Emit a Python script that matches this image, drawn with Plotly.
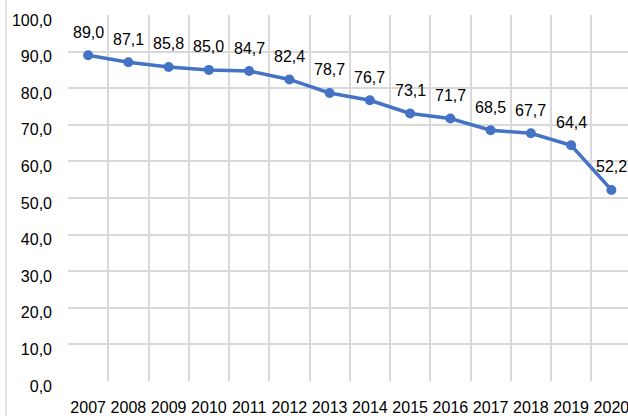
import plotly.graph_objects as go

years = [2007, 2008, 2009, 2010, 2011, 2012, 2013, 2014, 2015, 2016, 2017, 2018, 2019, 2020]
values = [89.0, 87.1, 85.8, 85.0, 84.7, 82.4, 78.7, 76.7, 73.1, 71.7, 68.5, 67.7, 64.4, 52.2]
y_ticks = [0, 10, 20, 30, 40, 50, 60, 70, 80, 90, 100]

def fmt(v):
    return f"{v:.1f}".replace(".", ",")

FONT = "Liberation Sans, Arial, sans-serif"
BLUE = "#4472C4"
GRID = "#D9D9D9"

fig = go.Figure()
fig.add_trace(go.Scatter(
    x=years, y=values, mode="lines+markers",
    line=dict(color=BLUE, width=3.5),
    marker=dict(color=BLUE, size=10),
    hoverinfo="skip", showlegend=False, cliponaxis=False,
))

for x, v in zip(years, values):
    fig.add_annotation(x=x, y=v, text=fmt(v), showarrow=False,
                       yshift=23, xanchor="center", yanchor="middle",
                       font=dict(family=FONT, size=16, color="#000000"))

boundaries = [y - 0.5 for y in years] + [years[-1] + 0.5]
plot_w = 560
cat_w = 40.25
fig.update_layout(
    width=628, height=416,
    margin=dict(l=68, r=0, t=15, b=35),
    paper_bgcolor="white", plot_bgcolor="white",
    font=dict(family=FONT, size=16, color="#000000"),
    xaxis=dict(
        range=[years[0] - 0.5, years[0] - 0.5 + plot_w / cat_w],
        tickvals=years, ticktext=[str(y) for y in years],
        showgrid=False, zeroline=False, showline=False,
        ticks="", ticklen=0, ticklabeloverflow="allow",
        ticklabelstandoff=15,
        minor=dict(tickvals=boundaries, showgrid=True, gridcolor=GRID, gridwidth=1.5, ticks=""),
        tickfont=dict(family=FONT, size=16),
    ),
    yaxis=dict(
        range=[0, 100],
        tickvals=y_ticks, ticktext=[fmt(t) for t in y_ticks],
        showgrid=True, gridcolor=GRID, gridwidth=1.5,
        zeroline=False, showline=False, ticks="",
        ticklabelstandoff=15, ticklabeloverflow="allow",
        ticklabelshift=5,
        tickfont=dict(family=FONT, size=16),
    ),
)
fig.add_shape(type="line", xref="paper", yref="paper",
              x0=(6 - 68) / plot_w, x1=(6 - 68) / plot_w, y0=-1, y1=2,
              line=dict(color=GRID, width=1.5))

fig.write_html("out.html", config={"displayModeBar": False},
               post_script="document.body.style.margin='0';")
